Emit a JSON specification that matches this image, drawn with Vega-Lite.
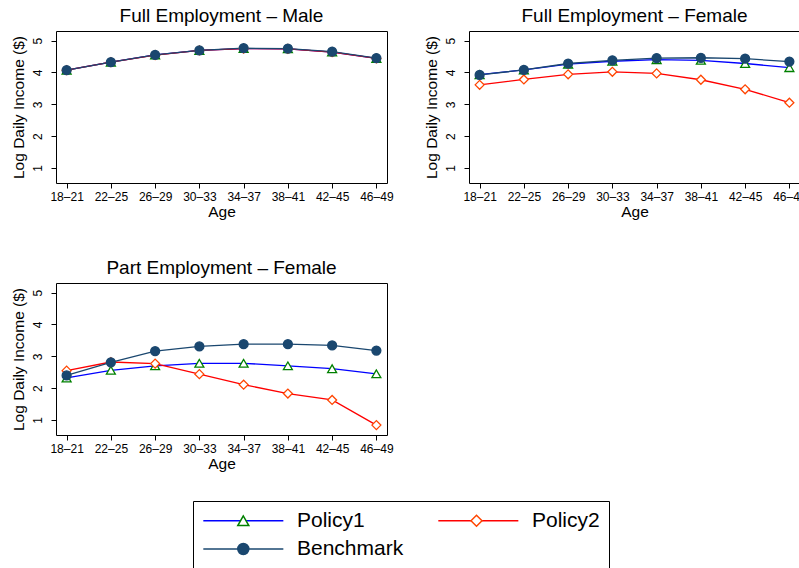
{
  "$schema": "https://vega.github.io/schema/vega-lite/v6.json",
  "background": "white",
  "padding": {"left": 10, "top": 6, "right": 0, "bottom": 0},
  "config": {
    "font": "Liberation Sans",
    "view": {"stroke": "black", "strokeWidth": 1},
    "axis": {"domain": false, "grid": false, "ticks": true, "tickColor": "black", "tickSize": 5, "labelFontSize": 12, "labelColor": "black", "titleFontSize": 15.5, "titleFontWeight": "normal", "titleColor": "black", "labelFont": "Liberation Sans", "titleFont": "Liberation Sans", "labelOverlap": false},
    "axisY": {"labelAngle": -90, "labelPadding": 6.5, "titlePadding": 5.5, "labelOverlap": false},
    "axisX": {"labelAngle": 0, "labelPadding": 3, "titlePadding": 2, "labelOverlap": false},
    "title": {"fontSize": 19, "fontWeight": "normal", "color": "black", "offset": 5, "font": "Liberation Sans"}
  },
  "datasets": {
    "income": [
      {"panel": "Full Employment – Male", "series": "Policy1", "age": "18–21", "value": 4.07},
      {"panel": "Full Employment – Male", "series": "Policy1", "age": "22–25", "value": 4.32},
      {"panel": "Full Employment – Male", "series": "Policy1", "age": "26–29", "value": 4.55},
      {"panel": "Full Employment – Male", "series": "Policy1", "age": "30–33", "value": 4.69},
      {"panel": "Full Employment – Male", "series": "Policy1", "age": "34–37", "value": 4.75},
      {"panel": "Full Employment – Male", "series": "Policy1", "age": "38–41", "value": 4.74},
      {"panel": "Full Employment – Male", "series": "Policy1", "age": "42–45", "value": 4.64},
      {"panel": "Full Employment – Male", "series": "Policy1", "age": "46–49", "value": 4.44},
      {"panel": "Full Employment – Male", "series": "Policy2", "age": "18–21", "value": 4.07},
      {"panel": "Full Employment – Male", "series": "Policy2", "age": "22–25", "value": 4.32},
      {"panel": "Full Employment – Male", "series": "Policy2", "age": "26–29", "value": 4.54},
      {"panel": "Full Employment – Male", "series": "Policy2", "age": "30–33", "value": 4.69},
      {"panel": "Full Employment – Male", "series": "Policy2", "age": "34–37", "value": 4.75},
      {"panel": "Full Employment – Male", "series": "Policy2", "age": "38–41", "value": 4.74},
      {"panel": "Full Employment – Male", "series": "Policy2", "age": "42–45", "value": 4.64},
      {"panel": "Full Employment – Male", "series": "Policy2", "age": "46–49", "value": 4.44},
      {"panel": "Full Employment – Male", "series": "Benchmark", "age": "18–21", "value": 4.07},
      {"panel": "Full Employment – Male", "series": "Benchmark", "age": "22–25", "value": 4.32},
      {"panel": "Full Employment – Male", "series": "Benchmark", "age": "26–29", "value": 4.55},
      {"panel": "Full Employment – Male", "series": "Benchmark", "age": "30–33", "value": 4.69},
      {"panel": "Full Employment – Male", "series": "Benchmark", "age": "34–37", "value": 4.76},
      {"panel": "Full Employment – Male", "series": "Benchmark", "age": "38–41", "value": 4.75},
      {"panel": "Full Employment – Male", "series": "Benchmark", "age": "42–45", "value": 4.65},
      {"panel": "Full Employment – Male", "series": "Benchmark", "age": "46–49", "value": 4.45},
      {"panel": "Full Employment – Female", "series": "Policy1", "age": "18–21", "value": 3.93},
      {"panel": "Full Employment – Female", "series": "Policy1", "age": "22–25", "value": 4.08},
      {"panel": "Full Employment – Female", "series": "Policy1", "age": "26–29", "value": 4.26},
      {"panel": "Full Employment – Female", "series": "Policy1", "age": "30–33", "value": 4.35},
      {"panel": "Full Employment – Female", "series": "Policy1", "age": "34–37", "value": 4.40},
      {"panel": "Full Employment – Female", "series": "Policy1", "age": "38–41", "value": 4.38},
      {"panel": "Full Employment – Female", "series": "Policy1", "age": "42–45", "value": 4.28},
      {"panel": "Full Employment – Female", "series": "Policy1", "age": "46–49", "value": 4.15},
      {"panel": "Full Employment – Female", "series": "Policy2", "age": "18–21", "value": 3.61},
      {"panel": "Full Employment – Female", "series": "Policy2", "age": "22–25", "value": 3.78},
      {"panel": "Full Employment – Female", "series": "Policy2", "age": "26–29", "value": 3.94},
      {"panel": "Full Employment – Female", "series": "Policy2", "age": "30–33", "value": 4.02},
      {"panel": "Full Employment – Female", "series": "Policy2", "age": "34–37", "value": 3.97},
      {"panel": "Full Employment – Female", "series": "Policy2", "age": "38–41", "value": 3.77},
      {"panel": "Full Employment – Female", "series": "Policy2", "age": "42–45", "value": 3.47},
      {"panel": "Full Employment – Female", "series": "Policy2", "age": "46–49", "value": 3.05},
      {"panel": "Full Employment – Female", "series": "Benchmark", "age": "18–21", "value": 3.92},
      {"panel": "Full Employment – Female", "series": "Benchmark", "age": "22–25", "value": 4.08},
      {"panel": "Full Employment – Female", "series": "Benchmark", "age": "26–29", "value": 4.28},
      {"panel": "Full Employment – Female", "series": "Benchmark", "age": "30–33", "value": 4.38},
      {"panel": "Full Employment – Female", "series": "Benchmark", "age": "34–37", "value": 4.45},
      {"panel": "Full Employment – Female", "series": "Benchmark", "age": "38–41", "value": 4.46},
      {"panel": "Full Employment – Female", "series": "Benchmark", "age": "42–45", "value": 4.43},
      {"panel": "Full Employment – Female", "series": "Benchmark", "age": "46–49", "value": 4.34},
      {"panel": "Part Employment – Female", "series": "Policy1", "age": "18–21", "value": 2.32},
      {"panel": "Part Employment – Female", "series": "Policy1", "age": "22–25", "value": 2.56},
      {"panel": "Part Employment – Female", "series": "Policy1", "age": "26–29", "value": 2.70},
      {"panel": "Part Employment – Female", "series": "Policy1", "age": "30–33", "value": 2.78},
      {"panel": "Part Employment – Female", "series": "Policy1", "age": "34–37", "value": 2.78},
      {"panel": "Part Employment – Female", "series": "Policy1", "age": "38–41", "value": 2.70},
      {"panel": "Part Employment – Female", "series": "Policy1", "age": "42–45", "value": 2.61},
      {"panel": "Part Employment – Female", "series": "Policy1", "age": "46–49", "value": 2.45},
      {"panel": "Part Employment – Female", "series": "Policy2", "age": "18–21", "value": 2.55},
      {"panel": "Part Employment – Female", "series": "Policy2", "age": "22–25", "value": 2.82},
      {"panel": "Part Employment – Female", "series": "Policy2", "age": "26–29", "value": 2.77},
      {"panel": "Part Employment – Female", "series": "Policy2", "age": "30–33", "value": 2.44},
      {"panel": "Part Employment – Female", "series": "Policy2", "age": "34–37", "value": 2.11},
      {"panel": "Part Employment – Female", "series": "Policy2", "age": "38–41", "value": 1.83},
      {"panel": "Part Employment – Female", "series": "Policy2", "age": "42–45", "value": 1.63},
      {"panel": "Part Employment – Female", "series": "Policy2", "age": "46–49", "value": 0.84},
      {"panel": "Part Employment – Female", "series": "Benchmark", "age": "18–21", "value": 2.40},
      {"panel": "Part Employment – Female", "series": "Benchmark", "age": "22–25", "value": 2.81},
      {"panel": "Part Employment – Female", "series": "Benchmark", "age": "26–29", "value": 3.16},
      {"panel": "Part Employment – Female", "series": "Benchmark", "age": "30–33", "value": 3.31},
      {"panel": "Part Employment – Female", "series": "Benchmark", "age": "34–37", "value": 3.38},
      {"panel": "Part Employment – Female", "series": "Benchmark", "age": "38–41", "value": 3.38},
      {"panel": "Part Employment – Female", "series": "Benchmark", "age": "42–45", "value": 3.34},
      {"panel": "Part Employment – Female", "series": "Benchmark", "age": "46–49", "value": 3.18}
    ]
  },
  "data": {"name": "income"},
  "spacing": 38,
  "vconcat": [
    {
      "spacing": 29,
      "hconcat": [
        {
          "title": "Full Employment – Male",
          "width": 331, "height": 152,
          "transform": [{"filter": {"field": "panel", "equal": "Full Employment – Male"}}],
          "encoding": {
            "x": {"field": "age", "type": "ordinal", "scale": {"type": "point", "padding": 0.24}, "axis": {"title": "Age", "labelOverlap": false}},
            "y": {"field": "value", "type": "quantitative", "scale": {"domain": [0.53, 5.3], "nice": false, "zero": false}, "axis": {"title": "Log Daily Income ($)", "values": [1, 2, 3, 4, 5], "tickCount": 5, "labelOverlap": false}}
          },
          "layer": [
            {
              "mark": {"type": "line", "strokeWidth": 1.3},
              "encoding": {
                "color": {"field": "series", "type": "nominal", "sort": ["Policy1", "Policy2", "Benchmark"], "scale": {"range": ["#0000ff", "#ff0000", "#1a476f"]},
                  "legend": {"orient": "none", "legendX": 137, "legendY": 470, "direction": "horizontal", "columns": 2, "title": null, "symbolType": "M-1.67,0H12.88", "symbolSize": 121, "symbolStrokeWidth": 1.5, "labelFontSize": 21, "labelColor": "black", "labelOffset": 74, "columnPadding": 31, "rowPadding": 6.5, "padding": 9, "strokeColor": "black", "fillColor": "white"}}
              }
            },
            {
              "mark": {"type": "point", "size": 80, "strokeWidth": 1.3, "opacity": 1},
              "encoding": {
                "shape": {"field": "series", "type": "nominal", "scale": {"domain": ["Policy1", "Policy2", "Benchmark"], "range": ["triangle-up", "diamond", "circle"]},
                  "legend": {"orient": "none", "legendX": 137, "legendY": 470, "direction": "horizontal", "columns": 2, "title": null, "symbolSize": 121, "symbolStrokeWidth": 1.5, "symbolOffset": 30.8, "labelFontSize": 21, "labelOpacity": 0, "labelOffset": 74, "columnPadding": 0.2, "rowPadding": 6.5, "padding": 9}},
                "stroke": {"field": "series", "type": "nominal", "scale": {"domain": ["Policy1", "Policy2", "Benchmark"], "range": ["#008000", "#ff4500", "#1a476f"]},
                  "legend": {"orient": "none", "legendX": 137, "legendY": 470, "direction": "horizontal", "columns": 2, "title": null, "symbolSize": 121, "symbolStrokeWidth": 1.5, "symbolOffset": 30.8, "labelFontSize": 21, "labelOpacity": 0, "labelOffset": 74, "columnPadding": 0.2, "rowPadding": 6.5, "padding": 9}},
                "fill": {"field": "series", "type": "nominal", "scale": {"domain": ["Policy1", "Policy2", "Benchmark"], "range": ["white", "white", "#1a476f"]},
                  "legend": {"orient": "none", "legendX": 137, "legendY": 470, "direction": "horizontal", "columns": 2, "title": null, "symbolSize": 121, "symbolStrokeWidth": 1.5, "symbolOffset": 30.8, "labelFontSize": 21, "labelOpacity": 0, "labelOffset": 74, "columnPadding": 0.2, "rowPadding": 6.5, "padding": 9}}
              }
            }
          ]
        },
        {
          "title": "Full Employment – Female",
          "width": 331, "height": 152,
          "transform": [{"filter": {"field": "panel", "equal": "Full Employment – Female"}}],
          "encoding": {
            "x": {"field": "age", "type": "ordinal", "scale": {"type": "point", "padding": 0.24}, "axis": {"title": "Age", "labelOverlap": false}},
            "y": {"field": "value", "type": "quantitative", "scale": {"domain": [0.53, 5.3], "nice": false, "zero": false}, "axis": {"title": "Log Daily Income ($)", "values": [1, 2, 3, 4, 5], "tickCount": 5, "labelOverlap": false}}
          },
          "layer": [
            {
              "mark": {"type": "line", "strokeWidth": 1.3},
              "encoding": {
                "color": {"field": "series", "type": "nominal", "sort": ["Policy1", "Policy2", "Benchmark"], "legend": null}
              }
            },
            {
              "mark": {"type": "point", "size": 80, "strokeWidth": 1.3, "opacity": 1},
              "encoding": {
                "shape": {"field": "series", "type": "nominal", "scale": {"domain": ["Policy1", "Policy2", "Benchmark"]}, "legend": null},
                "stroke": {"field": "series", "type": "nominal", "scale": {"domain": ["Policy1", "Policy2", "Benchmark"]}, "legend": null},
                "fill": {"field": "series", "type": "nominal", "scale": {"domain": ["Policy1", "Policy2", "Benchmark"]}, "legend": null}
              }
            }
          ]
        }
      ]
    },
    {
      "title": "Part Employment – Female",
      "width": 331, "height": 152,
      "transform": [{"filter": {"field": "panel", "equal": "Part Employment – Female"}}],
      "encoding": {
        "x": {"field": "age", "type": "ordinal", "scale": {"type": "point", "padding": 0.24}, "axis": {"title": "Age", "labelOverlap": false}},
        "y": {"field": "value", "type": "quantitative", "scale": {"domain": [0.53, 5.3], "nice": false, "zero": false}, "axis": {"title": "Log Daily Income ($)", "values": [1, 2, 3, 4, 5], "tickCount": 5, "labelOverlap": false}}
      },
      "layer": [
        {
          "mark": {"type": "line", "strokeWidth": 1.3},
          "encoding": {
            "color": {"field": "series", "type": "nominal", "sort": ["Policy1", "Policy2", "Benchmark"], "legend": null}
          }
        },
        {
          "mark": {"type": "point", "size": 80, "strokeWidth": 1.3, "opacity": 1},
          "encoding": {
            "shape": {"field": "series", "type": "nominal", "scale": {"domain": ["Policy1", "Policy2", "Benchmark"]}, "legend": null},
            "stroke": {"field": "series", "type": "nominal", "scale": {"domain": ["Policy1", "Policy2", "Benchmark"]}, "legend": null},
            "fill": {"field": "series", "type": "nominal", "scale": {"domain": ["Policy1", "Policy2", "Benchmark"]}, "legend": null}
          }
        }
      ]
    }
  ]
}
